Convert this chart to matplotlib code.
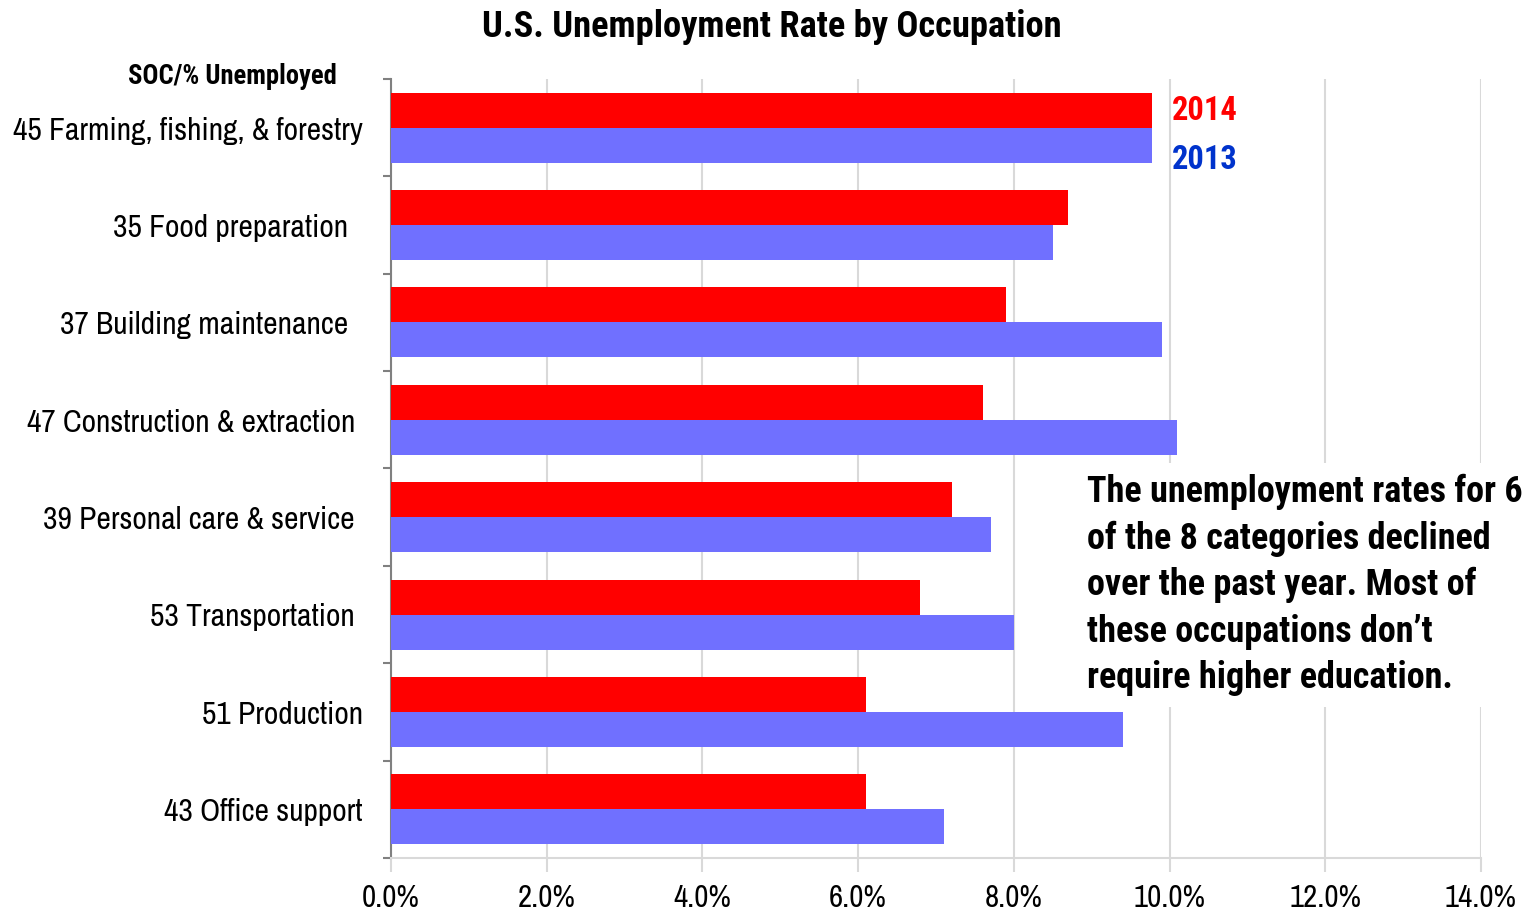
import matplotlib.pyplot as plt
import matplotlib.transforms as mtransforms
import numpy as np
from matplotlib import font_manager

# fuentes estrechas (tipo Arial Narrow)
nombres = {f.name for f in font_manager.fontManager.ttflist}
def elegir(opciones):
    for o in opciones:
        if o in nombres:
            return o
    return 'DejaVu Sans'

normal = elegir(['Liberation Sans Narrow', 'Arial Narrow', 'Archivo Narrow', 'Roboto Condensed'])
negrita = elegir(['Liberation Sans Narrow', 'Arial Narrow', 'Roboto Condensed', 'Fira Sans Condensed',
                  'Asap Condensed'])
plt.rcParams['font.family'] = [normal, 'DejaVu Sans']

ocupaciones = ['45 Farming, fishing, & forestry', '35 Food preparation',
               '37 Building maintenance', '47 Construction & extraction',
               '39 Personal care & service', '53 Transportation',
               '51 Production', '43 Office support']
tasa_2014 = [9.77, 8.7, 7.9, 7.6, 7.2, 6.8, 6.1, 6.1]
tasa_2013 = [9.77, 8.5, 9.9, 10.1, 7.7, 8.0, 9.4, 7.1]
xticks = [0, 2, 4, 6, 8, 10, 12, 14]

# borde derecho de cada etiqueta (pixeles)
borde_etiqueta = [363, 348, 348, 355, 355, 355, 363, 363]

W, H = 1531, 913
fig = plt.figure(figsize=(W / 100, H / 100), dpi=100)
ax = fig.add_axes([391 / W, 1 - 858 / H, (1481 - 391) / W, (858 - 79) / H])
rend = fig.canvas.get_renderer()

def ajustar(t, ancho):
    w = t.get_window_extent(rend).width
    t.set_fontsize(t.get_fontsize() * ancho / w)
    return t.get_fontsize()

y = np.arange(len(ocupaciones))
alto = 0.36
ax.barh(y - alto / 2, tasa_2014, height=alto, color='#ff0000', zorder=3)
ax.barh(y + alto / 2, tasa_2013, height=alto, color='#7070ff', zorder=3)

ax.set_xlim(0, 14)
ax.set_ylim(len(ocupaciones) - 0.5, -0.5)
ax.set_xticks(xticks)
ax.set_xticklabels([f'{v:.1f}%' for v in xticks], fontsize=22)
ax.tick_params(axis='x', length=10, color='#d9d9d9', width=1.5, pad=9)
ax.grid(axis='x', color='#d9d9d9', linewidth=1.5, zorder=0)
tl = ax.get_xticklabels()[0]
tam = ajustar(tl, 58)
for t in ax.get_xticklabels():
    t.set_fontsize(tam)

ax.set_yticks(np.arange(-0.5, len(ocupaciones)))
ax.set_yticklabels([])
ax.tick_params(axis='y', length=6, color='#808080', width=1.5)

for s in ['top', 'right']:
    ax.spines[s].set_visible(False)
ax.spines['left'].set_color('#808080')
ax.spines['left'].set_linewidth(1.5)
ax.spines['bottom'].set_color('#d9d9d9')
ax.spines['bottom'].set_linewidth(1.5)

trans = mtransforms.blended_transform_factory(fig.transFigure, ax.transData)
etiquetas = []
for i, (nombre, xr) in enumerate(zip(ocupaciones, borde_etiqueta)):
    etiquetas.append(ax.text(xr / W, i + 0.03, nombre, transform=trans, ha='right',
                             va='center', fontsize=22))
tam = ajustar(etiquetas[0], 350)
for t in etiquetas:
    t.set_fontsize(tam)

titulo = fig.text(772 / W, 1 - 27 / H, 'U.S. Unemployment Rate by Occupation',
                  ha='center', va='center', fontsize=24, fontweight='bold',
                  family=[negrita, 'DejaVu Sans'])
ajustar(titulo, 582)
soc = fig.text(232 / W, 1 - 76 / H, 'SOC/% Unemployed', ha='center', va='center',
               fontsize=17, fontweight='bold', family=[negrita, 'DejaVu Sans'])
ajustar(soc, 209)

t14 = fig.text(1172 / W, 1 - 111 / H, '2014', color='#ff0000', ha='left',
               va='center', fontsize=26, fontweight='bold', family=[negrita, 'DejaVu Sans'])
t13 = fig.text(1172 / W, 1 - 160 / H, '2013', color='#0033cc', ha='left',
               va='center', fontsize=26, fontweight='bold', family=[negrita, 'DejaVu Sans'])
ajustar(t14, 66)
ajustar(t13, 66)

nota = ('The unemployment rates for 6\nof the 8 categories declined\n'
        'over the past year. Most of\nthese occupations don\u2019t\n'
        'require higher education.')
caja = fig.text(1087 / W, 1 - 585 / H, nota, ha='left', va='center', fontsize=25,
                fontweight='bold', family=[negrita, 'DejaVu Sans'],
                bbox=dict(facecolor='white', edgecolor='none', pad=8))
ajustar(caja, 437)

# interlineado de unos 45 px entre renglones
_, lp_h, lp_d = rend.get_text_width_height_descent('lp', caja.get_fontproperties(), ismath=False)
caja.set_linespacing(45 / (lp_h - lp_d) * 45 / 53)

fig.savefig('out.png', dpi=100)
